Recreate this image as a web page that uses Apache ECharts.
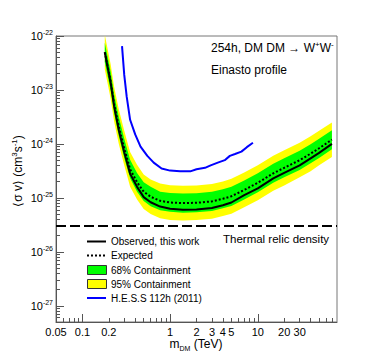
<!DOCTYPE html>
<html><head><meta charset="utf-8">
<script src="https://cdn.jsdelivr.net/npm/echarts@6/dist/echarts.min.js"></script>
<style>html,body{margin:0;padding:0;background:#fff}#c{width:374px;height:359px}</style>
</head><body><div id="c"></div>
<script>
// ---- data ----  <sigma v> in cm^3 s^-1, m_DM in TeV
const mass     = [0.18,0.21,0.23,0.26,0.30,0.35,0.42,0.50,0.60,0.77,1.0,1.4,2.0,3.0,4.0,5.0,7.0,10,15,20,30,40,50,70];
const observed = [5.0e-23,1.35e-23,5.0e-24,1.8e-24,7.0e-25,2.8e-25,1.6e-25,1.03e-25,8.3e-26,6.9e-26,6.3e-26,6.0e-26,6.1e-26,6.5e-26,7.3e-26,8.2e-26,1.12e-25,1.5e-25,2.3e-25,2.9e-25,4.0e-25,5.4e-25,6.8e-25,1.0e-24];
const expected = [5.0e-23,1.45e-23,5.5e-24,2.1e-24,8.3e-25,3.4e-25,1.95e-25,1.3e-25,1.05e-25,8.8e-26,8.2e-26,8.0e-26,8.1e-26,8.6e-26,9.6e-26,1.07e-25,1.4e-25,1.9e-25,2.85e-25,3.6e-25,5.0e-25,6.6e-25,8.3e-25,1.2e-24];
const lo95 = [2.4e-23,6.9e-24,2.6e-24,1.0e-24,4.0e-25,1.6e-25,9.3e-26,6.2e-26,5.0e-26,4.2e-26,3.9e-26,3.8e-26,3.9e-26,4.1e-26,4.6e-26,5.1e-26,6.7e-26,9.0e-26,1.36e-25,1.7e-25,2.4e-25,3.1e-25,4.0e-25,5.7e-25];
const lo68 = [3.3e-23,9.7e-24,3.7e-24,1.4e-24,5.5e-25,2.3e-25,1.3e-25,8.7e-26,7.0e-26,5.9e-26,5.5e-26,5.3e-26,5.4e-26,5.7e-26,6.4e-26,7.1e-26,9.3e-26,1.27e-25,1.9e-25,2.4e-25,3.3e-25,4.4e-25,5.5e-25,8.0e-25];
const hi68 = [7.5e-23,2.2e-23,8.3e-24,3.2e-24,1.25e-24,5.1e-25,2.9e-25,1.95e-25,1.6e-25,1.3e-25,1.23e-25,1.2e-25,1.22e-25,1.3e-25,1.45e-25,1.6e-25,2.1e-25,2.85e-25,4.3e-25,5.4e-25,7.5e-25,9.9e-25,1.25e-24,1.8e-24];
const hi95 = [1.05e-22,3.0e-23,1.15e-23,4.4e-24,1.75e-24,7.1e-25,4.1e-25,2.7e-25,2.2e-25,1.85e-25,1.72e-25,1.68e-25,1.7e-25,1.8e-25,2.0e-25,2.25e-25,2.95e-25,4.0e-25,6.0e-25,7.6e-25,1.05e-24,1.39e-24,1.75e-24,2.5e-24];
const hessMass  = [0.283,0.30,0.32,0.35,0.40,0.46,0.55,0.65,0.80,1.0,1.3,1.7,2.0,2.5,2.9,3.5,4.2,4.8,5.5,6.5,7.5,8.8];
const hessSigma = [6.5e-23,1.9e-23,7.5e-24,2.8e-24,1.5e-24,8.9e-25,6.0e-25,4.5e-25,3.5e-25,3.2e-25,3.1e-25,3.1e-25,3.4e-25,3.6e-25,4.0e-25,4.5e-25,5.0e-25,6.0e-25,6.5e-25,7.2e-25,8.7e-25,1.05e-24];
const thermalRelic = 3e-26;
const xTickLabels = [0.05,0.1,0.2,1,2,3,4,5,10,20,30];
const xMajorTicks = [0.1,1,10];
const yTickLabels = [1e-27,1e-26,1e-25,1e-24,1e-23,1e-22];
const xMin = 0.05, xMax = 80, yMin = 5e-28, yMax = 1e-22;

// ECharts rounds tick values to 10 decimals, so the y axis works in units of 1e-28 cm^3 s^-1
const Y_UNIT = 1e-28;
const u = v => +(v / Y_UNIT).toPrecision(12);

// minor tick positions (2..9 x decade)
const xMinor = [], yMinor = [];
for (let e = -2; e <= 1; e++) for (let k = 2; k <= 9; k++) { const v = k * Math.pow(10, e); if (v > xMin && v < xMax) xMinor.push(+v.toPrecision(3)); }
for (let e = 0; e <= 5; e++) for (let k = 2; k <= 9; k++) { const v = k * Math.pow(10, e); if (v > u(yMin) && v < u(yMax)) yMinor.push(+v.toPrecision(3)); }

const FF = '"Liberation Sans", Arial, Helvetica, sans-serif';
const AX = '#555';
const chart = echarts.init(document.getElementById('c'), null, {renderer: 'svg'});

function pairs(xs, ys) { return xs.map((x, i) => [x, u(ys[i])]); }

const option = {
  animation: false,
  backgroundColor: '#fff',
  grid: {left: 56, top: 36, width: 281, height: 286, show: true, borderColor: '#777', borderWidth: 1, backgroundColor: 'transparent', containLabel: false, outerBoundsMode: 'none'},
  xAxis: [
    {type: 'log', min: xMin, max: xMax, position: 'bottom',
     axisLine: {lineStyle: {color: AX, width: 1}},
     axisTick: {inside: true, length: 8, lineStyle: {color: AX}, customValues: xMajorTicks},
     axisLabel: {customValues: xTickLabels, margin: 4, fontSize: 11, fontFamily: FF, color: '#000',
       formatter: v => String(parseFloat(Number(v).toPrecision(3)))},
     splitLine: {show: false}},
    {type: 'log', min: xMin, max: xMax, position: 'bottom',
     axisLine: {show: false},
     axisTick: {inside: true, length: 4, lineStyle: {color: AX}, customValues: xMinor},
     axisLabel: {show: false}, splitLine: {show: false}}
  ],
  yAxis: [
    {type: 'log', min: u(yMin), max: u(yMax), position: 'left',
     axisLine: {lineStyle: {color: AX, width: 1}},
     axisTick: {inside: true, length: 8, lineStyle: {color: AX}, customValues: yTickLabels.map(u)},
     axisLabel: {customValues: yTickLabels.map(u), margin: 3,
       formatter: v => '{b|10}{s|' + Math.round(Math.log10(v * Y_UNIT)) + '}',
       rich: {b: {fontSize: 11, lineHeight: 14, fontFamily: FF, color: '#000'},
              s: {fontSize: 7, lineHeight: 9, verticalAlign: 'top', fontFamily: FF, color: '#000'}}},
     splitLine: {show: false}},
    {type: 'log', min: u(yMin), max: u(yMax), position: 'left',
     axisLine: {show: false},
     axisTick: {inside: true, length: 4, lineStyle: {color: AX}, customValues: yMinor},
     axisLabel: {show: false}, splitLine: {show: false}}
  ],
  series: [
    {type: 'custom', name: 'bands', z: 1, xAxisIndex: 0, yAxisIndex: 0,
     data: [[mass[0], u(hi95[0])]],
     renderItem: function (params, api) {
       const cs = params.coordSys;
       const poly = (hi, lo) => mass.map((m, i) => api.coord([m, u(hi[i])]))
                     .concat(mass.slice().reverse().map((m, j) => api.coord([m, u(lo[mass.length - 1 - j])])));
       return {type: 'group',
         clipPath: {type: 'rect', shape: {x: cs.x, y: cs.y, width: cs.width, height: cs.height}},
         children: [
           {type: 'polygon', shape: {points: poly(hi95, lo95)}, style: {fill: '#ffff00', stroke: null}},
           {type: 'polygon', shape: {points: poly(hi68, lo68)}, style: {fill: '#00ff00', stroke: null}}
         ]};
     }},
    {type: 'line', name: 'Expected', z: 3, data: pairs(mass, expected), showSymbol: false, symbol: 'none',
     lineStyle: {color: '#000', width: 2, type: [2, 2]}},
    {type: 'line', name: 'Observed, this work', z: 4, data: pairs(mass, observed), showSymbol: false, symbol: 'none',
     lineStyle: {color: '#000', width: 2},
     markLine: {silent: true, symbol: 'none', label: {show: false},
       lineStyle: {color: '#000', width: 2, type: [10, 4]},
       data: [{yAxis: u(thermalRelic)}]}},
    {type: 'line', name: 'H.E.S.S 112h (2011)', z: 4, data: pairs(hessMass, hessSigma), showSymbol: false, symbol: 'none',
     lineStyle: {color: '#0000ff', width: 2}}
  ],
  graphic: [
    {type: 'text', x: 211, y: 48, style: {text: '{n|254h, DM DM \u2192 W}{s|+}{n|W}{s|-}', textAlign: 'left', textVerticalAlign: 'middle',
      rich: {n: {fontSize: 12, lineHeight: 16, fontFamily: FF, fill: '#000'}, s: {fontSize: 8, lineHeight: 9, verticalAlign: 'top', fontFamily: FF, fill: '#000'}}}},
    {type: 'text', x: 211, y: 70, style: {text: 'Einasto profile', font: '12px ' + FF, fill: '#000', textAlign: 'left', textVerticalAlign: 'middle'}},
    {type: 'text', x: 223, y: 239, style: {text: 'Thermal relic density', font: '11.5px ' + FF, fill: '#000', textAlign: 'left', textVerticalAlign: 'middle'}},
    {type: 'text', x: 18, y: 171, rotation: Math.PI / 2, style: {text: '{n|\u27E8\u03C3 v\u27E9 (cm}{s|3}{n|s}{s|-1}{n|)}', textAlign: 'center', textVerticalAlign: 'middle',
      rich: {n: {fontSize: 12, lineHeight: 16, fontFamily: FF, fill: '#000'}, s: {fontSize: 8, lineHeight: 9, verticalAlign: 'top', fontFamily: FF, fill: '#000'}}}},
    {type: 'text', x: 196, y: 344, style: {text: '{n|m}{d|DM}{n| (TeV)}', textAlign: 'center', textVerticalAlign: 'middle',
      rich: {n: {fontSize: 12, lineHeight: 16, fontFamily: FF, fill: '#000'}, d: {fontSize: 7, lineHeight: 9, verticalAlign: 'bottom', fontFamily: FF, fill: '#000'}}}},
    // legend
    {type: 'line', shape: {x1: 87, y1: 241.5, x2: 106, y2: 241.5}, style: {stroke: '#000', lineWidth: 2}},
    {type: 'text', x: 111, y: 241.5, style: {text: 'Observed, this work', font: '10px ' + FF, fill: '#000', textVerticalAlign: 'middle'}},
    {type: 'line', shape: {x1: 87, y1: 255.5, x2: 106, y2: 255.5}, style: {stroke: '#000', lineWidth: 2, lineDash: [2, 2]}},
    {type: 'text', x: 111, y: 255.5, style: {text: 'Expected', font: '10px ' + FF, fill: '#000', textVerticalAlign: 'middle'}},
    {type: 'rect', shape: {x: 87.5, y: 265.5, width: 19, height: 9}, style: {fill: '#00ff00', stroke: '#333', lineWidth: 1}},
    {type: 'text', x: 111, y: 270.5, style: {text: '68% Containment', font: '10px ' + FF, fill: '#000', textVerticalAlign: 'middle'}},
    {type: 'rect', shape: {x: 87.5, y: 279.5, width: 19, height: 9}, style: {fill: '#ffff00', stroke: '#333', lineWidth: 1}},
    {type: 'text', x: 111, y: 284.5, style: {text: '95% Containment', font: '10px ' + FF, fill: '#000', textVerticalAlign: 'middle'}},
    {type: 'line', shape: {x1: 87, y1: 298, x2: 106, y2: 298}, style: {stroke: '#0000ff', lineWidth: 2}},
    {type: 'text', x: 111, y: 298, style: {text: 'H.E.S.S 112h (2011)', font: '10px ' + FF, fill: '#000', textVerticalAlign: 'middle'}}
  ]
};
chart.setOption(option);
</script></body></html>
